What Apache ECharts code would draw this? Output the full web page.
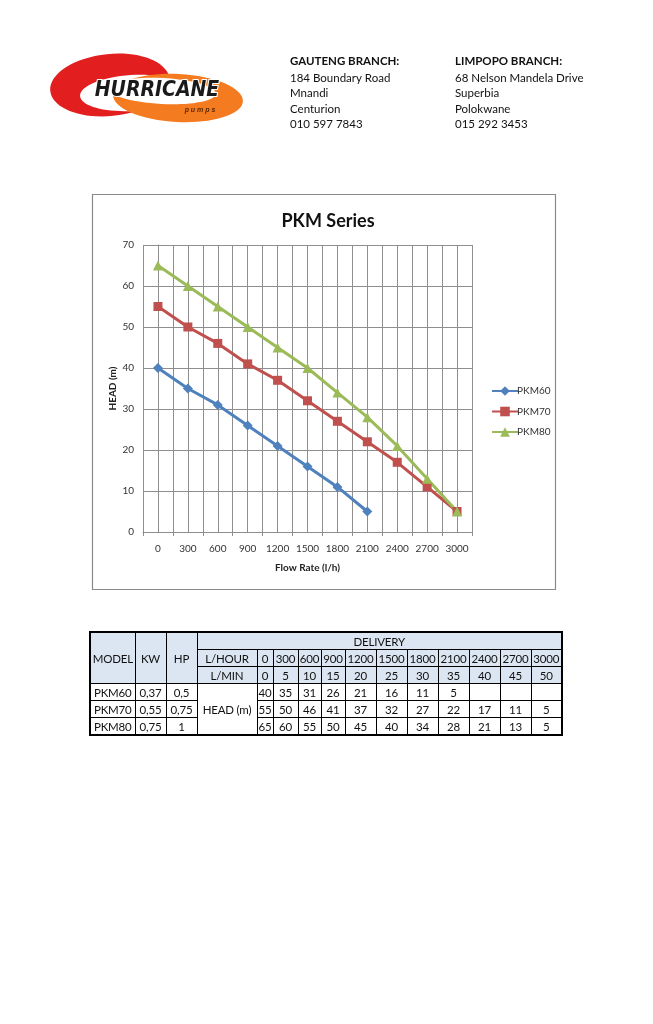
<!DOCTYPE html>
<html lang="en">
<head>
    <meta charset="UTF-8">
    <title>PKM Series</title>
    <script src="https://cdn.jsdelivr.net/npm/echarts@6/dist/echarts.min.js"></script>
    <style>
        html, body { margin: 0; padding: 0; background: #fff; }
        #page { position: relative; width: 653px; height: 1024px; }
        #chart { position: absolute; left: 0; top: 0; width: 653px; height: 1024px; }
        #spec {
            position: absolute; left: 89px; top: 631px;
            border-collapse: collapse; border: 2px solid #000;
            font-family: Lato, "Open Sans", sans-serif; font-size: 11.5px; letter-spacing: -0.2px; color: #111;
            table-layout: fixed;
        }
        #spec td { border: 1px solid #000; padding: 0; height: 16px; text-align: center; line-height: 15px; white-space: nowrap; overflow: hidden; }
        #spec td.hd { background: #dce6f2; }
    </style>
</head>
<body>
<div id="page">
    <div id="chart"></div>
    <table id="spec"></table>
</div>
<script>
    // 数据
    var flowRate = [0, 300, 600, 900, 1200, 1500, 1800, 2100, 2400, 2700, 3000];
    var litrePerMin = [0, 5, 10, 15, 20, 25, 30, 35, 40, 45, 50];
    var models = ['PKM60', 'PKM70', 'PKM80'];
    var kw = ['0,37', '0,55', '0,75'];
    var hp = ['0,5', '0,75', '1'];
    var pkm60 = [40, 35, 31, 26, 21, 16, 11, 5];
    var pkm70 = [55, 50, 46, 41, 37, 32, 27, 22, 17, 11, 5];
    var pkm80 = [65, 60, 55, 50, 45, 40, 34, 28, 21, 13, 5];
    var yTicks = [0, 10, 20, 30, 40, 50, 60, 70];

    var heads = [pkm60, pkm70, pkm80];
    var colWidths = [16, 25, 23, 24, 31, 31, 31, 31, 31, 31, 31];

    function pairs(vals) {
        return vals.map(function (v, i) { return [flowRate[i], v]; });
    }
    // 分类边界处的刻度
    var halfStep = (flowRate[1] - flowRate[0]) / 2;
    var boundaries = [flowRate[0] - halfStep].concat(flowRate.map(function (f) { return f + halfStep; }));
    var xMin = flowRate[0] - halfStep;
    var xMax = flowRate[flowRate.length - 1] + halfStep;

    var font = 'Lato, "Open Sans", sans-serif';
    var gridColor = '#8e8e8e';

    var myChart = echarts.init(document.getElementById('chart'), null, {renderer: 'canvas'});
    myChart.setOption({
        animation: false,
        backgroundColor: '#fff',
        textStyle: {fontFamily: font},
        title: {
            text: 'PKM Series',
            left: 323, top: 207, textAlign: 'center',
            textStyle: {fontSize: 18, fontWeight: 'bold', color: '#111', fontFamily: font}
        },
        legend: {
            orient: 'vertical',
            left: 486, top: 381,
            itemWidth: 26, itemHeight: 12, itemGap: 10.5,
            textStyle: {fontSize: 10, color: '#333', padding: [0, 0, 0, -6]},
            data: models
        },
        grid: {left: 143, top: 245, width: 329, height: 287, containLabel: false},
        xAxis: [{
            type: 'value',
            min: xMin, max: xMax, interval: halfStep,
            name: 'Flow Rate (l/h)',
            nameLocation: 'middle',
            nameGap: 31,
            nameTextStyle: {fontSize: 10, fontWeight: 'bold', color: '#222'},
            axisLine: {lineStyle: {color: gridColor}},
            axisTick: {show: true, customValues: boundaries, length: 4, lineStyle: {color: gridColor}},
            axisLabel: {customValues: flowRate, fontSize: 10, color: '#333', margin: 12,
                formatter: function (v) { return String(v); }},
            splitLine: {show: false}
        }, {
            // 只用来画竖向网格线
            type: 'value',
            position: 'bottom',
            min: xMin, max: xMax, interval: halfStep,
            axisLine: {show: false},
            axisTick: {show: false},
            axisLabel: {show: false},
            splitLine: {show: true, lineStyle: {color: gridColor, width: 1}}
        }],
        yAxis: {
            type: 'value',
            min: yTicks[0], max: yTicks[yTicks.length - 1], interval: 10,
            name: 'HEAD (m)',
            nameLocation: 'middle',
            nameGap: 25,
            nameMoveOverlap: false,
            nameRotate: 90,
            nameTextStyle: {fontSize: 10, fontWeight: 'bold', color: '#222'},
            axisLine: {show: true, lineStyle: {color: gridColor}},
            axisTick: {show: true, length: 4, lineStyle: {color: gridColor}},
            axisLabel: {fontSize: 10, color: '#333', margin: 9},
            splitLine: {show: true, lineStyle: {color: gridColor, width: 1}}
        },
        series: [
            {name: 'PKM60', type: 'line', data: pairs(pkm60), symbol: 'diamond', symbolSize: 10,
                itemStyle: {color: '#4f81bd'}, lineStyle: {width: 3, color: '#4f81bd'}},
            {name: 'PKM70', type: 'line', data: pairs(pkm70), symbol: 'rect', symbolSize: 9,
                itemStyle: {color: '#c0504d'}, lineStyle: {width: 3, color: '#c0504d'}},
            {name: 'PKM80', type: 'line', data: pairs(pkm80), symbol: 'triangle', symbolSize: 10,
                itemStyle: {color: '#9bbb59'}, lineStyle: {width: 3, color: '#9bbb59'}}
        ],
        graphic: [
            // 图表外框
            {type: 'rect', shape: {x: 92.5, y: 194.5, width: 463, height: 395},
                style: {fill: 'none', stroke: '#8a8a8a', lineWidth: 1.2}, z: -1},
            // 标志
            {type: 'ellipse', shape: {cx: 110, cy: 85, rx: 60, ry: 31}, rotation: 0.1, originX: 110, originY: 85,
                style: {fill: '#e21e1e'}},
            {type: 'ellipse', shape: {cx: 132, cy: 93, rx: 52, ry: 18}, rotation: 0.06, originX: 132, originY: 93,
                style: {fill: '#fff'}},
            {type: 'ellipse', shape: {cx: 178, cy: 98, rx: 65, ry: 24}, rotation: -0.05, originX: 178, originY: 98,
                style: {fill: '#f47b20'}},
            {type: 'ellipse', shape: {cx: 162, cy: 91, rx: 54, ry: 13}, rotation: -0.05, originX: 162, originY: 91,
                style: {fill: '#fff'}},
            {type: 'text', x: 157, y: 91, style: {text: 'HURRICANE', fill: '#1a1a1a', stroke: '#fff', lineWidth: 2,
                font: 'italic 900 21px "DejaVu Sans Condensed", "DejaVu Sans", sans-serif', align: 'center', verticalAlign: 'middle'}},
            {type: 'text', x: 200, y: 110, style: {text: 'p u m p s', fill: '#5a2a00',
                font: 'italic bold 7px sans-serif', align: 'center', verticalAlign: 'middle'}},
            // 分店地址
            {type: 'text', x: 290, y: 55, style: {text: 'GAUTENG BRANCH:', fill: '#111', font: 'bold 11.5px ' + font}},
            {type: 'text', x: 290, y: 70, style: {text: '184 Boundary Road\nMnandi\nCenturion\n010 597 7843',
                fill: '#111', font: '11.5px ' + font, lineHeight: 15.6}},
            {type: 'text', x: 455, y: 55, style: {text: 'LIMPOPO BRANCH:', fill: '#111', font: 'bold 11.5px ' + font}},
            {type: 'text', x: 455, y: 70, style: {text: '68 Nelson Mandela Drive\nSuperbia\nPolokwane\n015 292 3453',
                fill: '#111', font: '11.5px ' + font, lineHeight: 15.6}}
        ]
    });

    // 表格
    function td(text, cls, attrs) {
        return '<td' + (cls ? ' class="' + cls + '"' : '') + (attrs || '') + '>' + text + '</td>';
    }
    var html = '<colgroup><col style="width:45px"><col style="width:31px"><col style="width:31px"><col style="width:60px">';
    colWidths.forEach(function (w) { html += '<col style="width:' + w + 'px">'; });
    html += '</colgroup>';
    html += '<tr>' + td('MODEL', 'hd', ' rowspan="3"') + td('KW', 'hd', ' rowspan="3"') + td('HP', 'hd', ' rowspan="3"') +
        td('DELIVERY', 'hd', ' colspan="' + (flowRate.length + 1) + '"') + '</tr>';
    html += '<tr>' + td('L/HOUR', 'hd') + flowRate.map(function (f) { return td(f, 'hd'); }).join('') + '</tr>';
    html += '<tr>' + td('L/MIN', 'hd') + litrePerMin.map(function (m) { return td(m, 'hd'); }).join('') + '</tr>';
    models.forEach(function (m, r) {
        html += '<tr>' + td(m) + td(kw[r]) + td(hp[r]);
        if (r === 0) html += td('HEAD (m)', '', ' rowspan="' + models.length + '"');
        flowRate.forEach(function (f, i) {
            html += td(heads[r][i] !== undefined ? heads[r][i] : '');
        });
        html += '</tr>';
    });
    document.getElementById('spec').innerHTML = html;
</script>
</body>
</html>
